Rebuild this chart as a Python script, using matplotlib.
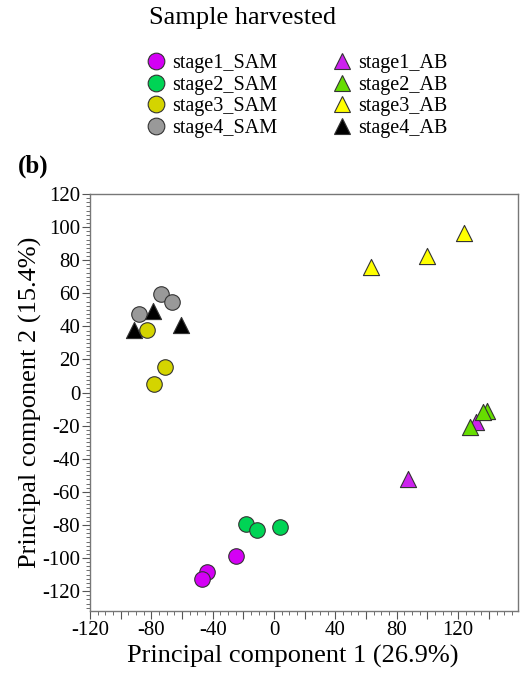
import matplotlib
matplotlib.use("Agg")
import matplotlib.pyplot as plt
from matplotlib.ticker import MultipleLocator
from matplotlib.lines import Line2D

plt.rcParams['font.family'] = ['Liberation Serif', 'DejaVu Serif']
plt.rcParams['axes.unicode_minus'] = False

# Data: (PC1, PC2) per group
groups = ["stage1_SAM", "stage2_SAM", "stage3_SAM", "stage4_SAM",
          "stage1_AB", "stage2_AB", "stage3_AB", "stage4_AB"]
stage1_SAM_x = [-25, -44, -47]
stage1_SAM_y = [-98.5, -108.5, -112.5]
stage2_SAM_x = [-18, -11, 4]
stage2_SAM_y = [-79.5, -83, -81.5]
stage3_SAM_x = [-83, -71, -78]
stage3_SAM_y = [38, 15.5, 5]
stage4_SAM_x = [-74, -66.5, -88]
stage4_SAM_y = [59.5, 55, 47.5]
stage1_AB_x = [131.5, 87]
stage1_AB_y = [-17.5, -52]
stage2_AB_x = [138.5, 136, 127.5]
stage2_AB_y = [-11, -11.5, -21]
stage3_AB_x = [124, 100, 63]
stage3_AB_y = [96.5, 82.5, 76]
stage4_AB_x = [-91, -79, -61]
stage4_AB_y = [38, 49.5, 41]

colors = {"stage1": "#d400f5", "stage2": "#00d455", "stage3": "#d4d400", "stage4": "#999999"}
tri_colors = {"stage1": "#cc22ee", "stage2": "#66dd00", "stage3": "#ffff00", "stage4": "#000000"}

fig = plt.figure(figsize=(5.25, 6.79), dpi=100)
ax = fig.add_axes([90/525, 1-611/679, (518-90)/525, (611-194)/679])

series = [
    (stage1_SAM_x, stage1_SAM_y, "o", colors["stage1"]),
    (stage2_SAM_x, stage2_SAM_y, "o", colors["stage2"]),
    (stage3_SAM_x, stage3_SAM_y, "o", colors["stage3"]),
    (stage4_SAM_x, stage4_SAM_y, "o", colors["stage4"]),
    (stage1_AB_x, stage1_AB_y, "^", tri_colors["stage1"]),
    (stage2_AB_x, stage2_AB_y, "^", tri_colors["stage2"]),
    (stage3_AB_x, stage3_AB_y, "^", tri_colors["stage3"]),
    (stage4_AB_x, stage4_AB_y, "^", tri_colors["stage4"]),
]
for xs, ys, m, c in series:
    size = 125 if m == "o" else 135
    ax.scatter(xs, ys, marker=m, s=size, c=c, edgecolors="#333333", linewidths=0.8, zorder=3)

ax.set_xlim(-120, 159)
ax.set_ylim(-132, 120)
ax.xaxis.set_minor_locator(MultipleLocator(5))
ax.yaxis.set_minor_locator(MultipleLocator(2.5))
ax.set_xticks(range(-120, 160, 20))
ax.set_xticklabels([str(v) if v % 40 == 0 else "" for v in range(-120, 160, 20)])
ax.set_yticks(range(-120, 121, 20))
ax.set_yticklabels([str(v) for v in range(-120, 121, 20)])
ax.tick_params(axis='both', which='major', length=6, width=0.8, color="#555555",
               labelsize=15, pad=1, direction='out')
ax.tick_params(axis='both', which='minor', length=3, width=0.6, color="#555555", direction='out')
for sp in ax.spines.values():
    sp.set_color("#777777")
    sp.set_linewidth(1.0)

ax.set_xlabel("Principal component 1 (26.9%)", fontsize=19)
ax.xaxis.set_label_coords((293-90)/428, (611-645)/417)
ax.set_ylabel("Principal component 2 (15.4%)", fontsize=19)
ax.yaxis.set_label_coords((42-90)/428, 0.5)

fig.text(18/525, 1-166/679, "(b)", fontsize=18, fontweight="bold", va="center", ha="left")
fig.text(243/525, 1-18/679, "Sample harvested", fontsize=19, va="center", ha="center")

# Legend
handles = []
sam_keys = ["stage1", "stage2", "stage3", "stage4"]
for k in sam_keys:
    handles.append(Line2D([], [], marker="o", ls="none", markersize=12, markerfacecolor=colors[k],
                          markeredgecolor="#333333", markeredgewidth=0.8))
for k in sam_keys:
    handles.append(Line2D([], [], marker="^", ls="none", markersize=12, markerfacecolor=tri_colors[k],
                          markeredgecolor="#333333", markeredgewidth=0.8))
leg = fig.legend(handles, groups, ncol=2, loc="upper left",
                 bbox_to_anchor=(144/525, 1-54/679), frameon=False, fontsize=14.5,
                 handletextpad=0.2, labelspacing=0.12, columnspacing=2.6, handlelength=1.2,
                 borderaxespad=0, borderpad=0)

fig.savefig("out.png", dpi=100)
